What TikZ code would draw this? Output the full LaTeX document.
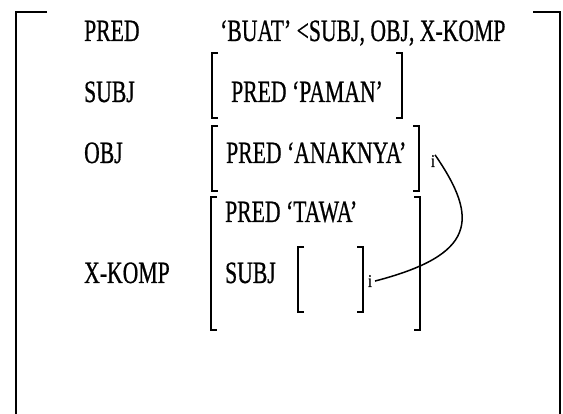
\documentclass[tikz,border=0pt]{standalone}
\usepackage{fontspec}
\setmainfont{Liberation Serif}
\newfontfamily\featfont[FakeBold=0.8,Ligatures=TeX]{Liberation Serif}
\begin{document}
\begin{tikzpicture}[x=1pt,y=-1pt,
    feat/.style={inner sep=0pt,anchor=base west,xscale=0.7,font=\featfont\fontsize{31}{31}\selectfont},
    idx/.style={inner sep=0pt,anchor=base west,xscale=0.75,font=\featfont\fontsize{18}{18}\selectfont},
    outer/.style={line width=2.4pt},
    brk/.style={line width=2pt},
    link/.style={line width=1.5pt}]
    \useasboundingbox (0,0) rectangle (563,414);
    \draw [outer] (47,12) -- (16,12) -- (16,414);
    \draw [outer] (533,12) -- (560,12) -- (560,414);
    \node [feat] (pred) at (84,41) {PRED};
    \node [feat] (subj) at (84,102) {SUBJ};
    \node [feat] (obj) at (84,163) {OBJ};
    \node [feat] (xkomp) at (84,283) {X-KOMP};
    \node [feat] (buat) at (220,41) {‘BUAT’ <SUBJ, OBJ, X-KOMP};
    \node [feat] (paman) at (231,102) {PRED ‘PAMAN’};
    \node [feat] (anaknya) at (226,163) {PRED ‘ANAKNYA’};
    \node [feat] (tawa) at (225,222) {PRED ‘TAWA’};
    \node [feat] (subjx) at (225,283) {SUBJ};
    \node [idx] (iobj) at (431,167) {i};
    \node [idx] (isubj) at (368,287) {i};
    \draw [brk] (218,53) -- (212,53) -- (212,118) -- (218,118);
    \draw [brk] (396,53) -- (402,53) -- (402,118) -- (396,118);
    \draw [brk] (218,126) -- (212,126) -- (212,191) -- (218,191);
    \draw [brk] (413,126) -- (419,126) -- (419,191) -- (413,191);
    \draw [brk] (217,197) -- (211,197) -- (211,330) -- (217,330);
    \draw [brk] (414,197) -- (420,197) -- (420,330) -- (414,330);
    \draw [brk] (304,247) -- (298,247) -- (298,312) -- (304,312);
    \draw [brk] (357,247) -- (363,247) -- (363,312) -- (357,312);
    \draw [link] (iobj.north east) .. controls (480,220) and (475,255) .. ([xshift=3pt]isubj.east);
\end{tikzpicture}
\end{document}
